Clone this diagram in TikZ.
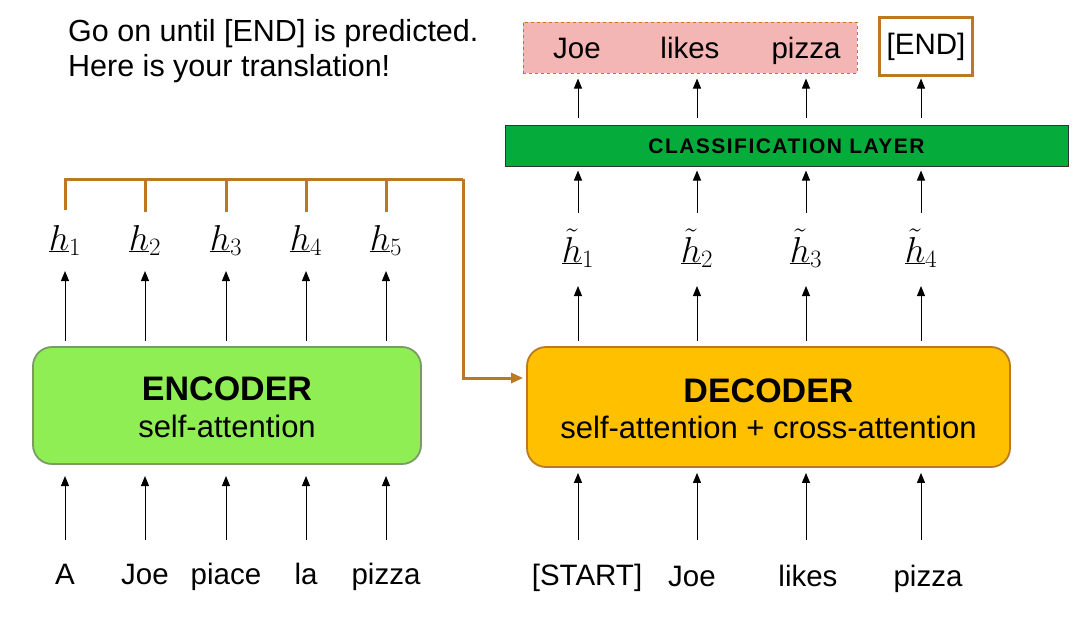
\RequirePackage{fix-cm}
\documentclass[tikz,border=0pt]{standalone}
\usepackage{fontspec}
\setmainfont{Liberation Sans}
\usetikzlibrary{arrows.meta,calc}
\definecolor{encfill}{HTML}{90EE55}
\definecolor{encdraw}{HTML}{7A9A66}
\definecolor{decfill}{HTML}{FFC000}
\definecolor{brown}{HTML}{B97A23}
\definecolor{clsfill}{HTML}{05AC3C}
\definecolor{pinkfill}{HTML}{F4B6B4}
\newcommand{\hsub}[1]{\hbox{\fontsize{25}{28}\selectfont$#1$}}
\tikzset{
  arr/.style={-{Triangle[length=10pt,width=8pt]}, line width=1pt, black},
  brk/.style={line width=3pt, brown},
  brkarr/.style={brk, -{Triangle[length=12pt,width=10pt]}},
  word/.style={font=\fontsize{29.5}{34}\selectfont, inner sep=0pt, anchor=base},
  hlab/.style={font=\fontsize{36}{40}\selectfont, inner sep=0pt, anchor=base},
  bigbox/.style={rounded corners=19pt, line width=1.8pt, inner sep=0pt},
  title/.style={font=\fontsize{34}{40}\selectfont\bfseries, inner sep=0pt, anchor=base},
  sub/.style={font=\fontsize{31}{36}\selectfont, inner sep=0pt, anchor=base},
}
\begin{document}
\begin{tikzpicture}[x=1pt,y=-1pt]
\useasboundingbox (0,0) rectangle (1088,625);

% top-left text
\node[word, anchor=base west, font=\fontsize{30.5}{34}\selectfont] (t1) at (68,41) {Go on until [END] is predicted.};
\node[word, anchor=base west, font=\fontsize{30.5}{34}\selectfont] (t2) at (68,76) {Here is your translation!};

% encoder
\node[bigbox, draw=encdraw, fill=encfill, minimum width=388pt, minimum height=117pt] (enc) at (227,405.5) {};
\node[title] (enctitle) at (227,400) {ENCODER};
\node[sub] (encsub) at (227,437) {self-attention};

% decoder
\node[bigbox, draw=brown, fill=decfill, minimum width=483pt, minimum height=120pt] (dec) at (768.5,407) {};
\node[title] (dectitle) at (768.5,402) {DECODER};
\node[sub] (decsub) at (768.5,438) {self-attention + cross-attention};

% classification layer
\node[draw=black!80, line width=1pt, fill=clsfill, minimum width=563pt, minimum height=41pt, inner sep=0pt] (cls) at (786.5,145.5) {};
\node[inner sep=0pt, anchor=base, font=\fontsize{21}{24}\selectfont\bfseries\addfontfeature{LetterSpace=7}] (clstext) at (786.5,153) {CLASSIFICATION LAYER};

% output boxes
\node[draw=brown, dashed, line width=1pt, fill=pinkfill, minimum width=334pt, minimum height=51pt, inner sep=0pt] (out) at (690,47.5) {};
\node[draw=brown, line width=3pt, fill=white, minimum width=93pt, minimum height=58pt, inner sep=0pt, font=\fontsize{29.5}{34}\selectfont] (endbox) at (926,46.5) {[END]};

% encoder columns
\foreach \i/\x/\w in {1/65/A,2/145/Joe,3/226/piace,4/306/la,5/386/pizza} {
  \node[word] (w\i) at (\x,584) {\w};
  \node[hlab] (h\i) at (\x,250) {$\underline{h}_{\hsub{\i}}$};
  \draw[arr] (w\i |- 0,540) -- (w\i |- 0,476);
  \draw[arr] ($(enc.north -| w\i)+(0,-5)$) -- (w\i |- 0,271);
}

% bracket
\coordinate (br) at (463,179);
\coordinate (bd) at (463,378);
\draw[brk] (h1 |- 0,210) |- (br);
\foreach \i in {2,...,5} {
  \draw[brk] (h\i |- 0,212) -- (h\i |- br);
}
\draw[brkarr] (br) -- (bd) -- ($(dec.west |- bd)+(-3,0)$);

% decoder columns
\foreach \i/\x in {1/578,2/697,3/806,4/921} {
  \node[hlab] (g\i) at (\x,262) {$\tilde{\underline{h}}_{\hsub{\i}}$};
  \draw[arr] (g\i |- 0,540) -- ($(dec.south -| g\i)+(0,5)$);
  \draw[arr] ($(dec.north -| g\i)+(0,-5)$) -- (g\i |- 0,286);
  \draw[arr] (g\i |- 0,213) -- ($(cls.south -| g\i)+(0,4)$);
  \draw[arr] ($(cls.north -| g\i)+(0,-7)$) -- ($(out.south -| g\i)+(0,5)$);
}
\node[word] (d1) at (587,585) {[START]};
\node[word] (d2) at (692,586) {Joe};
\node[word] (d3) at (808,586) {likes};
\node[word] (d4) at (928,586) {pizza};

% output words
\node[word] (o1) at (577,58) {Joe};
\node[word] (o2) at (690,58) {likes};
\node[word] (o3) at (806,58) {pizza};
\end{tikzpicture}
\end{document}
